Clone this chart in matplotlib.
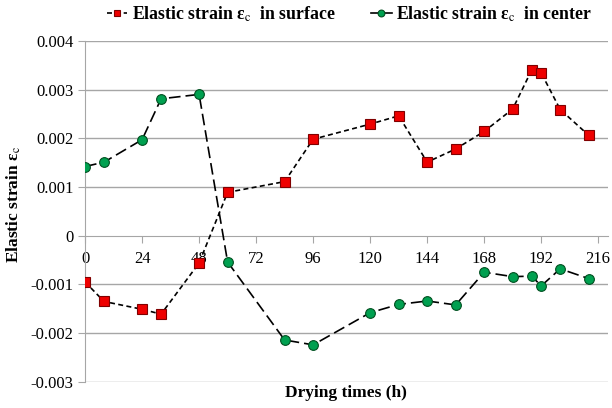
import matplotlib
matplotlib.use("Agg")
import matplotlib.pyplot as plt
from matplotlib.ticker import FuncFormatter

# drying time (h)
hours = [0, 8, 24, 32, 48, 60, 84, 96, 120, 132, 144, 156, 168, 180, 188, 192, 200, 212]
# elastic strain at the surface
surface = [-0.00095, -0.00135, -0.00151, -0.00161, -0.00056, 0.00089, 0.00111, 0.00198,
           0.00229, 0.00246, 0.00151, 0.00178, 0.00214, 0.00260, 0.00340, 0.00334,
           0.00259, 0.00206]
# elastic strain in the center
center = [0.00142, 0.00151, 0.00197, 0.00281, 0.00290, -0.00054, -0.00214, -0.00224,
          -0.00158, -0.00141, -0.00134, -0.00142, -0.00075, -0.00084, -0.00083, -0.00103,
          -0.00068, -0.00088]
xticks = [0, 24, 48, 72, 96, 120, 144, 168, 192, 216]
yticks = [-0.003, -0.002, -0.001, 0, 0.001, 0.002, 0.003, 0.004]

plt.rcParams['font.family'] = ['Liberation Serif', 'DejaVu Serif']
plt.rcParams['mathtext.fontset'] = 'stix'

fig = plt.figure(figsize=(6.12, 4.08), dpi=100)
ax = fig.add_axes([0.139, 0.064, 0.854, 0.836])

grey = '#a6a6a6'
for v in yticks:
    if v != 0:
        ax.axhline(v, color=grey, lw=1.0, zorder=0)

ax.plot(hours, surface, color='black', lw=1.2, dashes=(3, 2),
        marker='s', ms=7, mfc='#ee0000', mec='#800000', mew=0.8,
        label='Elastic strain ε$_\\mathrm{c}$  in surface', zorder=3)
ax.plot(hours, center, color='black', lw=1.2, dashes=(7, 3),
        marker='o', ms=7, mfc='#00a050', mec='#005020', mew=0.8,
        label='Elastic strain ε$_\\mathrm{c}$  in center', zorder=3)

ax.set_xlim(0, 220)
ax.set_ylim(-0.003, 0.004)
ax.set_xticks(xticks)
ax.set_yticks(yticks)
ax.yaxis.set_major_formatter(FuncFormatter(lambda v, p: '0' if abs(v) < 1e-9 else ('%.3f' % v)))

ax.spines['top'].set_visible(False)
ax.spines['right'].set_visible(False)
ax.spines['bottom'].set_position(('data', 0))
ax.spines['bottom'].set_color(grey)
ax.spines['left'].set_color(grey)
ax.tick_params(axis='both', colors=grey, labelcolor='black', labelsize=12, length=5)
ax.tick_params(axis='x', pad=6)

ax.set_xlabel('Drying times (h)', fontsize=12.5, fontweight='bold')
ax.xaxis.set_label_coords(0.5, -0.01)
ax.set_ylabel('Elastic strain ε$_\\mathrm{c}$', fontsize=12.5, fontweight='bold')
ax.yaxis.set_label_coords(-0.118, 0.52)

leg = fig.legend(loc='center left', bbox_to_anchor=(107 / 612, 1 - 14 / 408), ncol=2,
                 frameon=False, prop={'weight': 'bold', 'size': 12.8}, handlelength=1.15,
                 markerscale=0.7, handletextpad=0.25, columnspacing=2.0,
                 borderaxespad=0, borderpad=0)
leg.get_lines()[1].set_linestyle('-')

fig.savefig('out.png', dpi=100)
